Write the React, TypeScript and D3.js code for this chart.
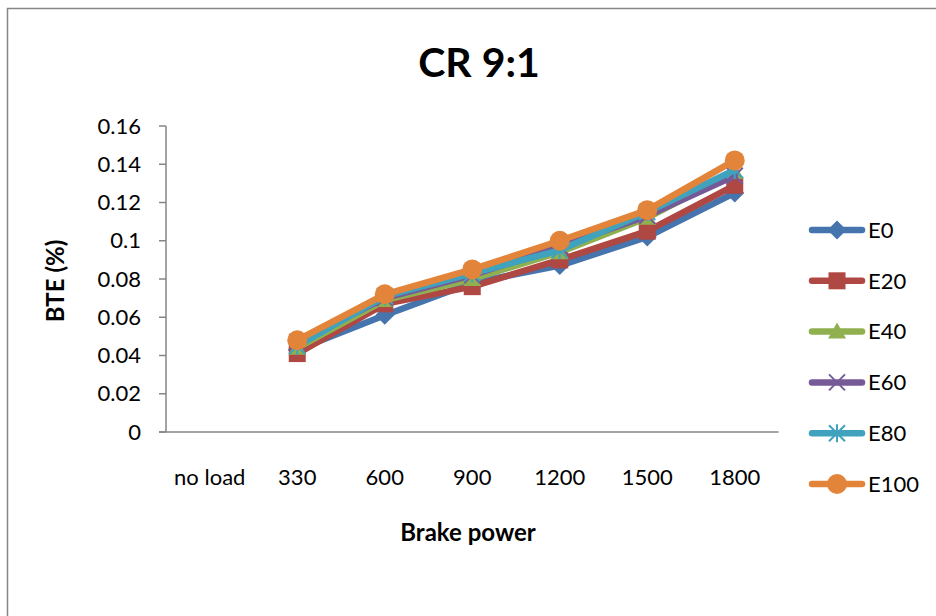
import * as d3 from "d3";

const categories = ["no load", "330", "600", "900", "1200", "1500", "1800"];
const seriesNames = ["E0", "E20", "E40", "E60", "E80", "E100"];

const e0 = [null, 0.043, 0.061, 0.078, 0.087, 0.102, 0.125];
const e20 = [null, 0.041, 0.067, 0.076, 0.09, 0.105, 0.129];
const e40 = [null, 0.044, 0.069, 0.08, 0.094, 0.112, 0.136];
const e60 = [null, 0.047, 0.07, 0.082, 0.097, 0.113, 0.134];
const e80 = [null, 0.045, 0.071, 0.083, 0.095, 0.115, 0.137];
const e100 = [null, 0.048, 0.072, 0.085, 0.1, 0.116, 0.142];

const yTicks = [0, 0.02, 0.04, 0.06, 0.08, 0.1, 0.12, 0.14, 0.16];

const colors = ["#4675AE", "#AF4743", "#90B050", "#765A98", "#40A2BC", "#E2843A"];
const shapes = ["diamond", "square", "triangle", "x", "star", "circle"];

const FONT = "Lato, Calibri, 'Open Sans', sans-serif";

function Marker({ shape, x, y, color }: { shape: string; x: number; y: number; color: string }) {
  if (shape === "diamond") {
    const s = 9.5;
    return <path d={`M${x},${y - s}L${x + s},${y}L${x},${y + s}L${x - s},${y}Z`} fill={color} />;
  }
  if (shape === "square") {
    return <rect x={x - 8.5} y={y - 8.5} width={17} height={17} fill={color} />;
  }
  if (shape === "triangle") {
    return <path d={`M${x},${y - 9}L${x + 9},${y + 7}L${x - 9},${y + 7}Z`} fill={color} />;
  }
  if (shape === "x") {
    return (
      <path
        d={`M${x - 8},${y - 8}L${x + 8},${y + 8}M${x + 8},${y - 8}L${x - 8},${y + 8}`}
        stroke={color}
        strokeWidth={2}
      />
    );
  }
  if (shape === "star") {
    return (
      <path
        d={`M${x - 8},${y - 8}L${x + 8},${y + 8}M${x + 8},${y - 8}L${x - 8},${y + 8}M${x},${y - 9}L${x},${y + 9}`}
        stroke={color}
        strokeWidth={2}
      />
    );
  }
  return <circle cx={x} cy={y} r={10} fill={color} />;
}

export default function App() {
  const width = 936;
  const height = 616;
  const margin = { left: 166, right: 157.5, top: 126, bottom: 184 };

  const series = [e0, e20, e40, e60, e80, e100];

  const x = d3
    .scaleBand()
    .domain(categories)
    .range([margin.left, width - margin.right]);
  const y = d3
    .scaleLinear()
    .domain([0, 0.16])
    .range([height - margin.bottom, margin.top]);

  const cx = (c: string) => (x(c) as number) + x.bandwidth() / 2;

  const line = d3
    .line<number | null>()
    .defined((d) => d != null)
    .x((_, i) => cx(categories[i]))
    .y((d) => y(d as number));

  const legendX = 812;
  const legendY0 = 230;
  const legendStep = 50.8;

  return (
    <svg
      width={width}
      height={height}
      style={{ position: "absolute", left: 0, top: 0, background: "#fff" }}
      fontFamily={FONT}
    >
      <rect x={7.5} y={8.5} width={1000} height={700} fill="#fff" stroke="#868686" strokeWidth={1.5} />

      <text x={479} y={77} textAnchor="middle" fontSize={41} fontWeight="bold" fill="#000">
        CR 9:1
      </text>

      {/* Y axis */}
      <line x1={margin.left} x2={margin.left} y1={y(0.16)} y2={y(0)} stroke="#868686" strokeWidth={1.5} />
      {yTicks.map((t) => (
        <g key={t}>
          <line x1={margin.left - 7} x2={margin.left} y1={y(t)} y2={y(t)} stroke="#868686" strokeWidth={1.5} />
          <text x={141} y={y(t)} dy="0.35em" textAnchor="end" fontSize={22} fill="#000">
            {String(t)}
          </text>
        </g>
      ))}

      {/* X axis */}
      <line x1={margin.left - 7} x2={width - margin.right} y1={y(0)} y2={y(0)} stroke="#868686" strokeWidth={1.5} />
      {categories.map((c) => (
        <text key={c} x={cx(c)} y={477} dy="0.35em" textAnchor="middle" fontSize={22} fill="#000">
          {c}
        </text>
      ))}

      <text x={468} y={533} dy="0.35em" textAnchor="middle" fontSize={24} fontWeight="bold" fill="#000">
        Brake power
      </text>
      <text
        transform={`translate(56,281) rotate(-90)`}
        textAnchor="middle"
        dy="0.35em"
        fontSize={24}
        fontWeight="bold"
        fill="#000"
      >
        BTE (%)
      </text>

      {/* Series */}
      {series.map((s, si) => (
        <g key={seriesNames[si]}>
          <path
            d={line(s) || ""}
            fill="none"
            stroke={colors[si]}
            strokeWidth={6.5}
            strokeLinejoin="round"
            strokeLinecap="round"
          />
          {s.map((v, i) =>
            v == null ? null : (
              <Marker key={i} shape={shapes[si]} x={cx(categories[i])} y={y(v)} color={colors[si]} />
            )
          )}
        </g>
      ))}

      {/* Legend */}
      {seriesNames.map((n, i) => {
        const ly = legendY0 + i * legendStep;
        return (
          <g key={n}>
            <line
              x1={legendX}
              x2={legendX + 50}
              y1={ly}
              y2={ly}
              stroke={colors[i]}
              strokeWidth={6.5}
              strokeLinecap="round"
            />
            <Marker shape={shapes[i]} x={legendX + 25} y={ly} color={colors[i]} />
            <text x={legendX + 56} y={ly} dy="0.35em" fontSize={22} fill="#000">
              {n}
            </text>
          </g>
        );
      })}
    </svg>
  );
}
